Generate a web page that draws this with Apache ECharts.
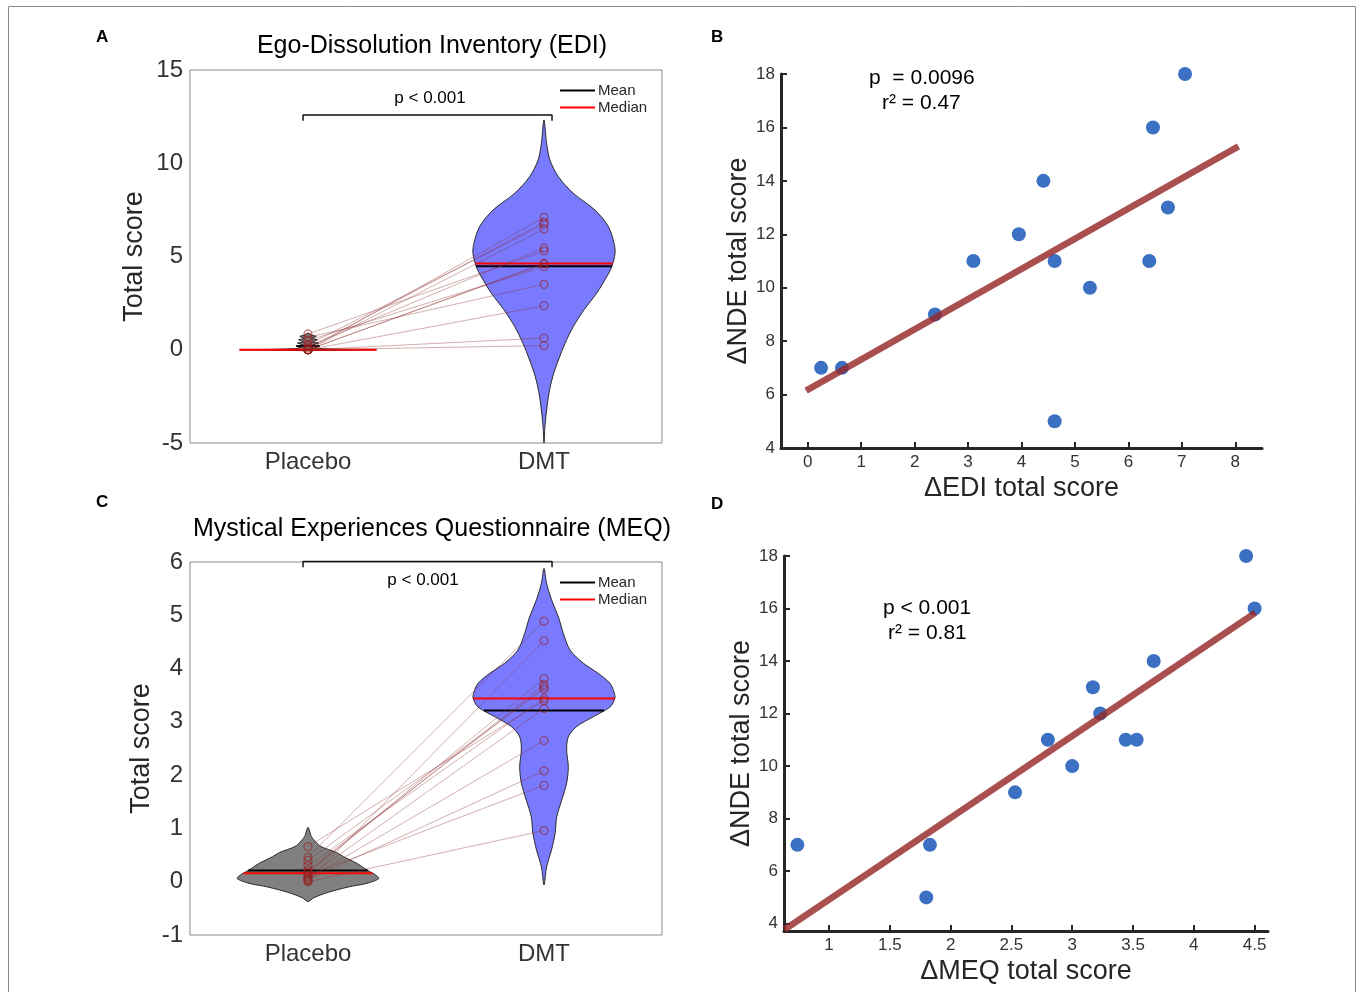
<!DOCTYPE html>
<html><head><meta charset="utf-8">
<script src="https://cdn.jsdelivr.net/npm/echarts@6/dist/echarts.min.js"></script>
<style>html,body{margin:0;padding:0;background:#fff}#c{width:1360px;height:992px}</style>
</head><body><div id="c"></div>
<script>
const FONT = "'Liberation Sans', Arial, Helvetica, sans-serif";
const groups = ['Placebo', 'DMT'];

// Panel A: EDI paired scores
const ediPlacebo = [0, 0.09, 0.27, 0, 0.18, 0.85, 0, 0, 0.50, 0.67, 0, 0, 0];
const ediDmt = [7.10, 6.83, 6.73, 6.47, 5.46, 5.29, 4.63, 4.60, 4.45, 3.51, 2.36, 0.63, 0.22];
// violin outlines (score, half-width)
const ediPlaceboV = [-0.05, -0.025, 0.0, 0.025, 0.06, 0.12, 0.2, 0.26, 0.36, 0.42, 0.54, 0.6, 0.72, 0.8, 0.9];
const ediPlaceboW = [0, 0.15, 0.29, 0.14, 0.05, 0.03, 0.05, 0.02, 0.045, 0.018, 0.04, 0.015, 0.035, 0.01, 0];
const ediDmtV = [12.32, 11.07, 10.17, 9.28, 8.39, 7.49, 6.60, 5.71, 5.17, 4.45, 3.92, 3.03, 2.13, 1.24, 0.34, -0.55, -1.44, -2.34, -3.23, -4.12, -5.0];
const ediDmtW = [0, 0.011, 0.025, 0.061, 0.124, 0.216, 0.273, 0.297, 0.301, 0.287, 0.266, 0.223, 0.169, 0.124, 0.089, 0.061, 0.037, 0.021, 0.011, 0.004, 0];

// Panel C: MEQ paired scores
const meqPlacebo = [0.46, 0.02, 0.16, 0.18, 0.22, 0.40, 0.30, 0.66, 0.09, 0.06, 0.04, 0.12, 0.0];
const meqDmt = [4.89, 4.52, 3.81, 3.70, 3.65, 3.61, 3.44, 3.40, 3.25, 2.65, 2.08, 1.81, 0.96];
const meqPlaceboV = [1.02, 0.85, 0.77, 0.66, 0.55, 0.47, 0.35, 0.22, 0.13, 0.06, -0.03, -0.10, -0.20, -0.30, -0.37];
const meqPlaceboW = [0, 0.014, 0.028, 0.055, 0.12, 0.15, 0.205, 0.25, 0.285, 0.30, 0.25, 0.17, 0.085, 0.025, 0];
const meqDmtV = [5.88, 5.60, 5.29, 4.97, 4.66, 4.35, 4.10, 3.91, 3.72, 3.54, 3.44, 3.28, 3.10, 2.91, 2.72, 2.47, 2.16, 1.85, 1.53, 1.22, 0.91, 0.60, 0.28, -0.06];
const meqDmtW = [0, 0.011, 0.032, 0.061, 0.082, 0.110, 0.167, 0.23, 0.28, 0.298, 0.30, 0.28, 0.21, 0.138, 0.103, 0.096, 0.103, 0.096, 0.075, 0.054, 0.047, 0.032, 0.011, 0];

// Panel B: change scores
const ediDelta = [0.25, 0.64, 2.38, 3.10, 3.95, 4.41, 4.62, 4.62, 5.28, 6.39, 6.46, 6.74, 7.06];
const ndeDeltaB = [7, 7, 9, 11, 12, 14, 11, 5, 10, 11, 16, 13, 18];
const fitBX = [-0.03, 8.06];
const fitBY = [6.15, 15.29];

// Panel D
const meqDelta = [0.74, 1.80, 1.83, 2.53, 2.80, 3.00, 3.17, 3.23, 3.44, 3.53, 3.67, 4.43, 4.50];
const ndeDeltaD = [7, 5, 7, 9, 11, 10, 13, 12, 11, 11, 14, 18, 16];
const fitDX = [0.632, 4.506];
const fitDY = [3.77, 15.84];

// tick labels
const ticksBX = [0, 1, 2, 3, 4, 5, 6, 7, 8];
const ticksBY = [4, 6, 8, 10, 12, 14, 16, 18];
const ticksDX = [1, 1.5, 2, 2.5, 3, 3.5, 4, 4.5];
const ticksDY = [4, 6, 8, 10, 12, 14, 16, 18];

function mean(a) { return a.reduce((s, v) => s + v, 0) / a.length; }
function median(a) { const s = a.slice().sort((x, y) => x - y); const n = s.length; return n % 2 ? s[(n - 1) / 2] : (s[n / 2 - 1] + s[n / 2]) / 2; }
function widthAt(vs, ws, v) {
  const pts = vs.map((y, i) => [y, ws[i]]).sort((a, b) => a[0] - b[0]);
  if (v <= pts[0][0]) return pts[0][1];
  for (let i = 1; i < pts.length; i++) {
    if (v <= pts[i][0]) { const t = (v - pts[i - 1][0]) / (pts[i][0] - pts[i - 1][0]); return pts[i - 1][1] + t * (pts[i][1] - pts[i - 1][1]); }
  }
  return pts[pts.length - 1][1];
}

function violin(g, center, vs, ws, fill, smooth) {
  return {
    type: 'custom', xAxisIndex: g, yAxisIndex: g, z: 1, silent: true, clip: false,
    data: [[center, vs[0]]],
    renderItem(params, api) {
      const pts = [];
      for (let i = 0; i < vs.length; i++) pts.push(api.coord([center + ws[i], vs[i]]));
      for (let i = vs.length - 2; i >= 1; i--) pts.push(api.coord([center - ws[i], vs[i]]));
      return { type: 'polygon', shape: { points: pts, smooth: smooth }, style: { fill: fill, stroke: '#2a2a2a', lineWidth: 1 } };
    }
  };
}
function statLine(g, name, center, value, vs, ws, color) {
  const w = widthAt(vs, ws, value);
  return {
    type: 'line', name: name, xAxisIndex: g, yAxisIndex: g, z: 2, silent: true, symbol: 'none', clip: false,
    color: color, itemStyle: { color: color },
    lineStyle: { color: color, width: 2 },
    data: [[center - w, value], [center + w, value]]
  };
}
function pairLines(g, pl, dm) {
  return {
    type: 'custom', xAxisIndex: g, yAxisIndex: g, z: 3, silent: true, clip: false,
    data: pl.map((p, i) => [p, dm[i]]),
    renderItem(params, api) {
      const a = api.coord([1, api.value(0)]), b = api.coord([2, api.value(1)]);
      return { type: 'line', shape: { x1: a[0], y1: a[1], x2: b[0], y2: b[1] }, style: { stroke: 'rgba(140,45,45,0.38)', lineWidth: 1 } };
    }
  };
}
function circles(g, x, vals) {
  return {
    type: 'scatter', xAxisIndex: g, yAxisIndex: g, z: 4, silent: true, symbol: 'circle', symbolSize: 8,
    itemStyle: { color: 'rgba(0,0,0,0)', borderColor: 'rgba(150,30,30,0.75)', borderWidth: 1.2 },
    data: vals.map(v => [x, v])
  };
}
function bracket(g, x1, x2, yTop, yBot) {
  return {
    type: 'line', xAxisIndex: g, yAxisIndex: g, z: 5, silent: true, symbol: 'none', clip: false,
    lineStyle: { color: '#111', width: 1.5 },
    data: [[x1, yBot], [x1, yTop], [x2, yTop], [x2, yBot]]
  };
}

const violinX = (g) => ({
  gridIndex: g, type: 'value', min: 0.5, max: 2.5,
  axisLine: { show: false }, axisTick: { show: false }, splitLine: { show: false },
  axisLabel: { customValues: [1, 2], formatter: v => groups[Math.round(v) - 1], fontSize: 24, color: '#333', margin: 7, fontFamily: FONT }
});
const violinY = (g, min, max, interval, gap) => ({
  gridIndex: g, type: 'value', min: min, max: max, interval: interval,
  axisLine: { show: false }, axisTick: { show: false }, splitLine: { show: false },
  axisLabel: { fontSize: 24, color: '#333', margin: 7, fontFamily: FONT },
  name: 'Total score', nameLocation: 'middle', nameGap: gap,
  nameTextStyle: { fontSize: 27, color: '#262626', fontFamily: FONT }
});
const sciAxisLine = { show: true, onZero: false, lineStyle: { color: '#262626', width: 3 } };
const sciTick = (vals) => ({ show: true, inside: true, length: 6, customValues: vals, lineStyle: { color: '#262626', width: 2 } });

const scatterColor = '#3b70c2';
const fitColor = 'rgba(150,40,40,0.82)';
const legendStyle = { fontSize: 15, lineHeight: 15, color: '#262626', fontFamily: FONT, padding: [0, 0, 0, -2] };

const option = {
  animation: false,
  backgroundColor: '#fff',
  textStyle: { fontFamily: FONT },
  grid: [
    { left: 190, top: 70, width: 472, height: 373, show: true, borderColor: '#8a8a8a', borderWidth: 1, backgroundColor: 'transparent' },
    { left: 781, top: 74, width: 481, height: 374 },
    { left: 190, top: 562, width: 472, height: 373, show: true, borderColor: '#8a8a8a', borderWidth: 1, backgroundColor: 'transparent' },
    { left: 784, top: 556, width: 484, height: 375 }
  ],
  xAxis: [
    violinX(0),
    {
      gridIndex: 1, type: 'value', min: -0.5, max: 8.5,
      axisLine: sciAxisLine, axisTick: sciTick(ticksBX), splitLine: { show: false },
      axisLabel: { customValues: ticksBX, fontSize: 17, color: '#333', margin: 6, fontFamily: FONT },
      name: 'ΔEDI total score', nameLocation: 'middle', nameGap: 27,
      nameTextStyle: { fontSize: 27, color: '#262626', fontFamily: FONT }
    },
    violinX(2),
    {
      gridIndex: 3, type: 'value', min: 0.63, max: 4.61,
      axisLine: sciAxisLine, axisTick: sciTick(ticksDX), splitLine: { show: false },
      axisLabel: { customValues: ticksDX, fontSize: 17, color: '#333', margin: 6, fontFamily: FONT },
      name: 'ΔMEQ total score', nameLocation: 'middle', nameGap: 27,
      nameTextStyle: { fontSize: 27, color: '#262626', fontFamily: FONT }
    }
  ],
  yAxis: [
    violinY(0, -5, 15, 5, 42),
    {
      gridIndex: 1, type: 'value', min: 4, max: 18,
      axisLine: sciAxisLine, axisTick: sciTick(ticksBY), splitLine: { show: false },
      axisLabel: { customValues: ticksBY, fontSize: 17, color: '#333', margin: 6, fontFamily: FONT },
      name: 'ΔNDE total score', nameLocation: 'middle', nameGap: 27,
      nameTextStyle: { fontSize: 27, color: '#262626', fontFamily: FONT }
    },
    violinY(2, -1, 6, 1, 35),
    {
      gridIndex: 3, type: 'value', min: 3.72, max: 18,
      axisLine: sciAxisLine, axisTick: sciTick(ticksDY), splitLine: { show: false },
      axisLabel: { customValues: ticksDY, fontSize: 17, color: '#333', margin: 6, fontFamily: FONT },
      name: 'ΔNDE total score', nameLocation: 'middle', nameGap: 28,
      nameTextStyle: { fontSize: 27, color: '#262626', fontFamily: FONT }
    }
  ],
  legend: [
    { left: 560, top: 83, padding: 0, orient: 'vertical', icon: 'rect', itemWidth: 35, itemHeight: 2, itemGap: 2, selectedMode: false, data: ['Mean', 'Median'], textStyle: legendStyle },
    { left: 560, top: 575, padding: 0, orient: 'vertical', icon: 'rect', itemWidth: 35, itemHeight: 2, itemGap: 2, selectedMode: false, data: ['Mean', 'Median'], textStyle: legendStyle }
  ],
  series: [
    // Panel A
    violin(0, 1, ediPlaceboV, ediPlaceboW, '#808080', 0),
    violin(0, 2, ediDmtV, ediDmtW, '#7a7aff', 0.3),
    statLine(0, 'Mean', 1, mean(ediPlacebo), ediPlaceboV, ediPlaceboW, '#000000'),
    statLine(0, 'Median', 1, median(ediPlacebo), ediPlaceboV, ediPlaceboW, '#ff0000'),
    statLine(0, 'Mean', 2, mean(ediDmt), ediDmtV, ediDmtW, '#000000'),
    statLine(0, 'Median', 2, median(ediDmt), ediDmtV, ediDmtW, '#ff0000'),
    pairLines(0, ediPlacebo, ediDmt),
    circles(0, 1, ediPlacebo),
    circles(0, 2, ediDmt),
    bracket(0, 0.979, 2.034, 12.59, 12.28),
    // Panel C
    violin(2, 1, meqPlaceboV, meqPlaceboW, '#808080', 0.3),
    violin(2, 2, meqDmtV, meqDmtW, '#7a7aff', 0.3),
    statLine(2, 'Mean', 1, mean(meqPlacebo), meqPlaceboV, meqPlaceboW, '#000000'),
    statLine(2, 'Median', 1, median(meqPlacebo), meqPlaceboV, meqPlaceboW, '#ff0000'),
    statLine(2, 'Mean', 2, mean(meqDmt), meqDmtV, meqDmtW, '#000000'),
    statLine(2, 'Median', 2, median(meqDmt), meqDmtV, meqDmtW, '#ff0000'),
    pairLines(2, meqPlacebo, meqDmt),
    circles(2, 1, meqPlacebo),
    circles(2, 2, meqDmt),
    bracket(2, 0.979, 2.034, 6.01, 5.9),
    // Panel B
    { type: 'scatter', xAxisIndex: 1, yAxisIndex: 1, z: 2, symbolSize: 14, itemStyle: { color: scatterColor, opacity: 1 }, data: ediDelta.map((x, i) => [x, ndeDeltaB[i]]) },
    { type: 'line', xAxisIndex: 1, yAxisIndex: 1, z: 3, symbol: 'none', clip: false, lineStyle: { color: fitColor, width: 6.5, cap: 'butt' }, data: fitBX.map((x, i) => [x, fitBY[i]]) },
    // Panel D
    { type: 'scatter', xAxisIndex: 3, yAxisIndex: 3, z: 2, symbolSize: 14, itemStyle: { color: scatterColor, opacity: 1 }, data: meqDelta.map((x, i) => [x, ndeDeltaD[i]]) },
    { type: 'line', xAxisIndex: 3, yAxisIndex: 3, z: 3, symbol: 'none', clip: false, lineStyle: { color: fitColor, width: 6.5, cap: 'butt' }, data: fitDX.map((x, i) => [x, fitDY[i]]) }
  ],
  graphic: [
    { type: 'rect', silent: true, shape: { x: 8.5, y: 6.5, width: 1347, height: 1000 }, style: { fill: 'none', stroke: '#8a8a8a', lineWidth: 1 } },
    { type: 'text', x: 96, y: 37, style: { text: 'A', font: 'bold 17px ' + FONT, fill: '#000', verticalAlign: 'middle' } },
    { type: 'text', x: 711, y: 37, style: { text: 'B', font: 'bold 17px ' + FONT, fill: '#000', verticalAlign: 'middle' } },
    { type: 'text', x: 96, y: 502, style: { text: 'C', font: 'bold 17px ' + FONT, fill: '#000', verticalAlign: 'middle' } },
    { type: 'text', x: 711, y: 504, style: { text: 'D', font: 'bold 17px ' + FONT, fill: '#000', verticalAlign: 'middle' } },
    { type: 'text', x: 432, y: 46, style: { text: 'Ego-Dissolution Inventory (EDI)', font: '25px ' + FONT, fill: '#000', align: 'center', verticalAlign: 'middle' } },
    { type: 'text', x: 432, y: 529, style: { text: 'Mystical Experiences Questionnaire (MEQ)', font: '25px ' + FONT, fill: '#000', align: 'center', verticalAlign: 'middle' } },
    { type: 'text', x: 430, y: 98, style: { text: 'p < 0.001', font: '17px ' + FONT, fill: '#000', align: 'center', verticalAlign: 'middle' } },
    { type: 'text', x: 423, y: 580, style: { text: 'p < 0.001', font: '17px ' + FONT, fill: '#000', align: 'center', verticalAlign: 'middle' } },
    { type: 'text', x: 869, y: 78, style: { text: 'p  = 0.0096', font: '21px ' + FONT, fill: '#000', verticalAlign: 'middle' } },
    { type: 'text', x: 882, y: 103, style: { text: 'r² = 0.47', font: '21px ' + FONT, fill: '#000', verticalAlign: 'middle' } },
    { type: 'text', x: 883, y: 608, style: { text: 'p < 0.001', font: '21px ' + FONT, fill: '#000', verticalAlign: 'middle' } },
    { type: 'text', x: 888, y: 633, style: { text: 'r² = 0.81', font: '21px ' + FONT, fill: '#000', verticalAlign: 'middle' } }
  ]
};

const chart = echarts.init(document.getElementById('c'), null, { renderer: 'canvas' });
chart.setOption(option);
</script>
</body></html>
